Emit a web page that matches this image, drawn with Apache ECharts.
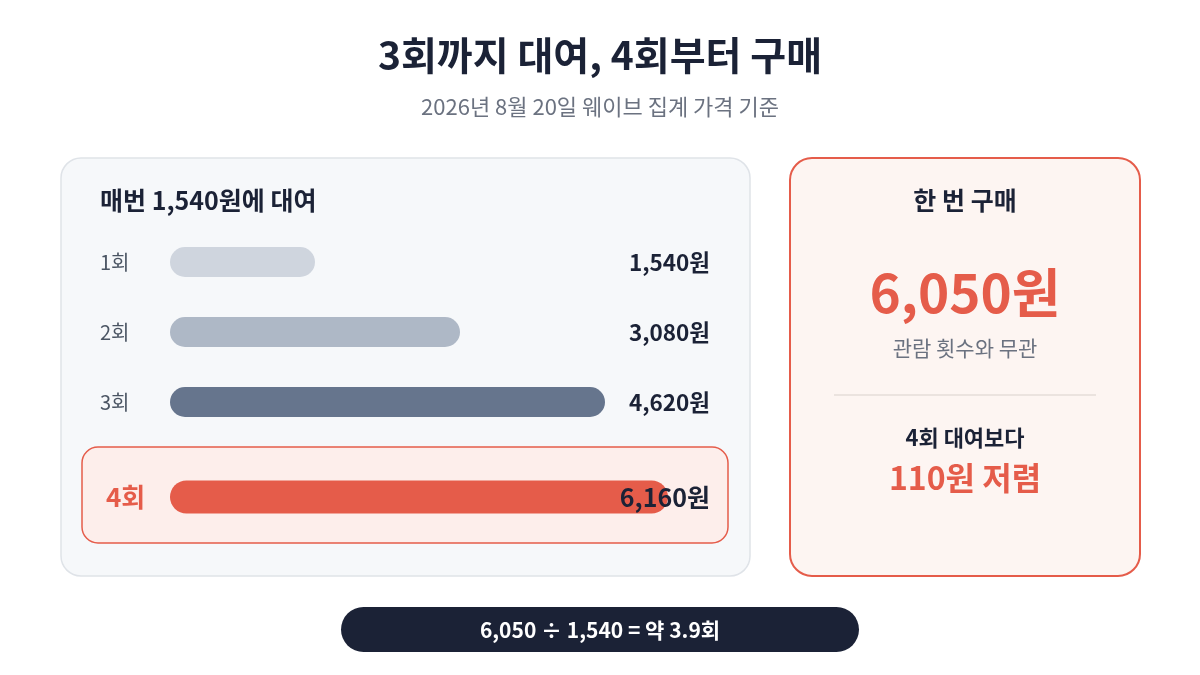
<!DOCTYPE html>
<html><head><meta charset="utf-8">
<script src="https://cdn.jsdelivr.net/npm/echarts@6/dist/echarts.min.js"></script>
<style>html,body{margin:0;padding:0;background:#fff}#c{width:1200px;height:675px}</style>
</head><body><div id="c"></div>
<script>
const categories = ['1회', '2회', '3회', '4회'];
const values = [1540, 3080, 4620, 6160];
const barColors = ['#cfd5de', '#aeb8c6', '#66758d', '#e55c4a'];
const buyPrice = 6050;
const perRental = 1540;
const titleText = '3회까지 대여, 4회부터 구매';
const subtitleText = '2026년 8월 20일 웨이브 집계 가격 기준';

const F = '"Noto Sans CJK KR", "Noto Sans", sans-serif';
const fmt = v => v.toLocaleString('en-US') + '원';
const AX_MAX = 5289;
const saving = values[3] - buyPrice;
const ratio = (buyPrice / perRental).toFixed(1);

const chart = echarts.init(document.getElementById('c'));
const rentCats = categories.slice(0, 3);
const buyCats = categories.slice(3);

chart.setOption({
  backgroundColor: '#ffffff',
  animation: false,
  graphic: [
    {type: 'rect', z: -10, shape: {x: 61, y: 158, width: 689, height: 418, r: 20},
      style: {fill: '#f6f8fa', stroke: '#dfe3e8', lineWidth: 1.5}},
    {type: 'rect', z: -9, shape: {x: 82, y: 447, width: 646, height: 96, r: 16},
      style: {fill: '#fdeeeb', stroke: '#e55c4a', lineWidth: 1.5}},
    {type: 'text', z: 5, x: 100, y: 200, style: {text: '매번 ' + fmt(perRental) + '에 대여', fontFamily: F, fontSize: 25, fontWeight: 'bold', fill: '#1b2236', verticalAlign: 'middle'}},
    {type: 'rect', z: -10, shape: {x: 790, y: 158, width: 350, height: 418, r: 22},
      style: {fill: '#fdf5f2', stroke: '#e55c4a', lineWidth: 2}},
    {type: 'text', z: 5, x: 965, y: 200, style: {text: '한 번 구매', align: 'center', verticalAlign: 'middle', fontFamily: F, fontSize: 25, fontWeight: 'bold', fill: '#1b2236'}},
    {type: 'text', z: 5, x: 965, y: 293, style: {text: fmt(buyPrice), align: 'center', verticalAlign: 'middle', fontFamily: F, fontSize: 53, fontWeight: 'bold', fill: '#e55c4a'}},
    {type: 'text', z: 5, x: 965, y: 348, style: {text: '관람 횟수와 무관', align: 'center', verticalAlign: 'middle', fontFamily: F, fontSize: 21, fill: '#6b7280'}},
    {type: 'line', z: 5, shape: {x1: 834, y1: 395, x2: 1096, y2: 395}, style: {stroke: '#e5dcd8', lineWidth: 1.5}},
    {type: 'text', z: 5, x: 965, y: 438, style: {text: '4회 대여보다', align: 'center', verticalAlign: 'middle', fontFamily: F, fontSize: 22, fontWeight: 'bold', fill: '#1b2236'}},
    {type: 'text', z: 5, x: 965, y: 478, style: {text: saving + '원 저렴', align: 'center', verticalAlign: 'middle', fontFamily: F, fontSize: 32, fontWeight: 'bold', fill: '#e55c4a'}},
    {type: 'rect', z: 5, shape: {x: 341, y: 607, width: 518, height: 45, r: 22.5}, style: {fill: '#1b2236'}},
    {type: 'text', z: 6, x: 600, y: 630, style: {text: buyPrice.toLocaleString('en-US') + ' ÷ ' + perRental.toLocaleString('en-US') + ' = 약 ' + ratio + '회', align: 'center', verticalAlign: 'middle', fontFamily: F, fontSize: 21, fontWeight: 'bold', fill: '#ffffff'}}
  ],
  title: [{
    text: titleText, left: 'center', top: 31,
    textStyle: {fontFamily: F, fontSize: 39, fontWeight: 'bold', color: '#1b2236'}
  }, {
    text: subtitleText, left: 'center', top: 91,
    textStyle: {fontFamily: F, fontSize: 22, fontWeight: 'normal', color: '#6b7280'}
  }],
  grid: [
    {left: 170, top: 227, width: 498, height: 210},
    {left: 170, top: 462, width: 498, height: 70}
  ],
  xAxis: [
    {gridIndex: 0, type: 'value', min: 0, max: AX_MAX, show: false},
    {gridIndex: 1, type: 'value', min: 0, max: AX_MAX, show: false}
  ],
  yAxis: [
    {gridIndex: 0, type: 'category', data: rentCats, inverse: true,
      axisLine: {show: false}, axisTick: {show: false}, splitLine: {show: false},
      axisLabel: {margin: 70, align: 'left', fontFamily: F, fontSize: 20, color: '#4b5563'}},
    {gridIndex: 0, type: 'category', data: rentCats, inverse: true, position: 'right',
      axisLine: {show: false}, axisTick: {show: false}, splitLine: {show: false},
      axisLabel: {margin: 42, align: 'right', fontFamily: F, fontSize: 22.5, fontWeight: 'bold', color: '#1b2236',
        formatter: (v, i) => fmt(values[i])}},
    {gridIndex: 1, type: 'category', data: buyCats, inverse: true,
      axisLine: {show: false}, axisTick: {show: false}, splitLine: {show: false},
      axisLabel: {margin: 64, align: 'left', fontFamily: F, fontSize: 26, fontWeight: 'bold', color: '#e55c4a'}},
    {gridIndex: 1, type: 'category', data: buyCats, inverse: true, position: 'right',
      axisLine: {show: false}, axisTick: {show: false}, splitLine: {show: false},
      axisLabel: {margin: 42, align: 'right', fontFamily: F, fontSize: 25, fontWeight: 'bold', color: '#1b2236',
        formatter: () => fmt(values[3])}, z: 10}
  ],
  series: [
    {type: 'bar', xAxisIndex: 0, yAxisIndex: 0, barWidth: 30,
      data: values.slice(0, 3).map((v, i) => ({value: v, itemStyle: {color: barColors[i]}})),
      itemStyle: {borderRadius: 15}},
    {type: 'bar', xAxisIndex: 1, yAxisIndex: 2, barWidth: 33, clip: true,
      data: [{value: values[3], itemStyle: {color: barColors[3]}}],
      itemStyle: {borderRadius: 16.5}}
  ]
});
</script></body></html>
